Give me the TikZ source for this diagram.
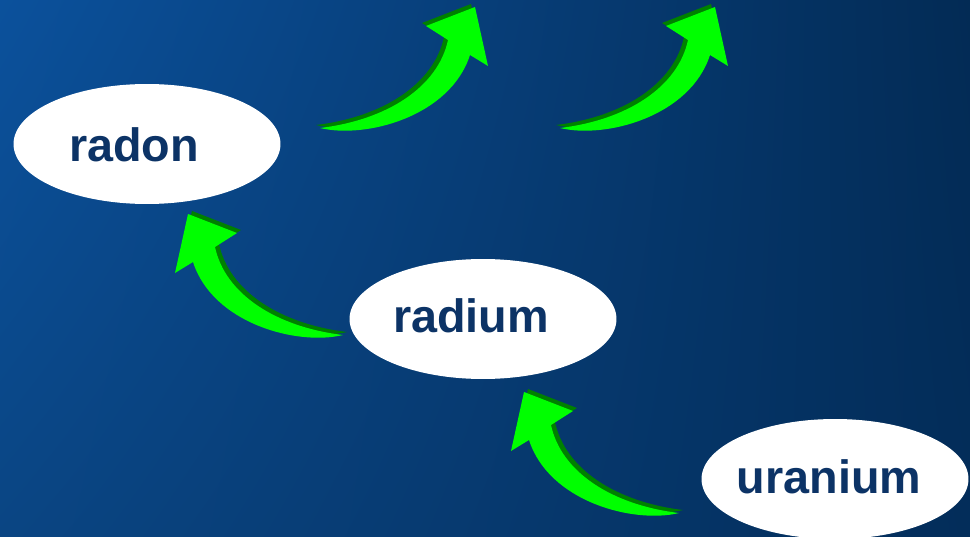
\documentclass[tikz,border=0pt]{standalone}
\usepackage{fontspec}
\setmainfont{Liberation Sans}
\usetikzlibrary{shapes.geometric,shadings}
\definecolor{bgUL}{HTML}{0B519C}
\definecolor{bgLL}{HTML}{0A4583}
\definecolor{bgUR}{HTML}{032B55}
\definecolor{bgLR}{HTML}{032D5A}
\definecolor{labelblue}{HTML}{0C3366}
\definecolor{arrowgreen}{HTML}{00FF00}
\definecolor{arrowdark}{HTML}{008000}
\tikzset{
  elem/.style={ellipse, fill=white, inner sep=0pt, minimum width=5.34cm, minimum height=2.4cm},
  elemtext/.style={anchor=base, text=labelblue, font=\fontsize{26.6}{30}\selectfont\bfseries, inner sep=0pt},
  curvedarrow/.pic={
    \fill[arrowdark, shift={(4,-3)}] (0,0) -- (49,19) -- (27,33)
      .. controls (37,80) and (88,113) .. (155,121)
      .. controls (110,132) and (25,110) .. (5,48)
      -- (-13,59) -- cycle;
    \fill[arrowgreen] (0,0) -- (49,19) -- (27,33)
      .. controls (37,80) and (88,113) .. (155,121)
      .. controls (110,132) and (25,110) .. (5,48)
      -- (-13,59) -- cycle;
  }
}
\begin{document}
\begin{tikzpicture}[x=0.02cm, y=-0.02cm]
  \useasboundingbox (0,0) rectangle (970,537);
  \shade[upper left=bgUL, lower left=bgLL, upper right=bgUR, lower right=bgLR] (0,0) rectangle (970,537);
  % ellipses
  \node[elem] (radon) at (147,144) {};
  \node[elem] (radium) at (483,319) {};
  \node[elem] (uranium) at (835,479) {};
  % labels
  \node[elemtext] (radonT) at (134,161) {radon};
  \node[elemtext] (radiumT) at (471,332) {radium};
  \node[elemtext] (uraniumT) at (829,493) {uranium};
  % arrows
  \pic at (188,214) {curvedarrow};
  \pic at (524,392) {curvedarrow};
  \pic[xscale=-1] at (475,7) {curvedarrow};
  \pic[xscale=-1] at (715,7) {curvedarrow};
\end{tikzpicture}
\end{document}
